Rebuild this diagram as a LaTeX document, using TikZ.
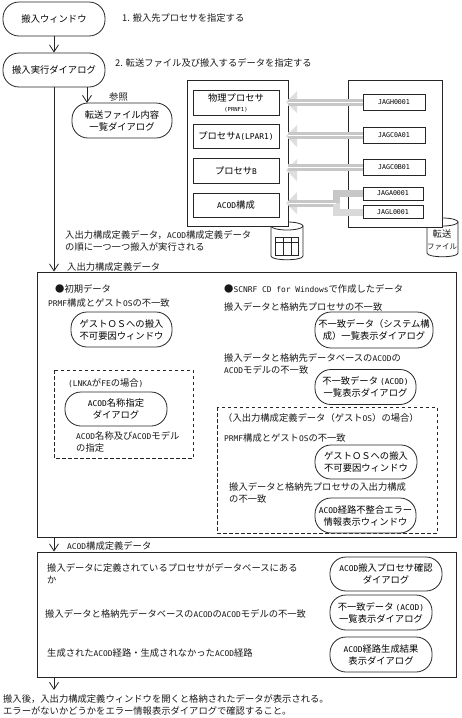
\documentclass[tikz,border=0pt]{standalone}
\usepackage{fontspec}
\setmainfont{Noto Sans CJK JP}
\newfontfamily\hwf[Scale=0.85]{DejaVu Sans Mono}
\newcommand{\hw}[1]{{\hwf #1}}
\usetikzlibrary{arrows.meta}
\tikzset{
 x=1pt,y=-1pt,
 ln/.style={draw=black!85,line width=0.8pt},
 pill/.style={ln,rounded corners=16pt,fill=white,align=center,font=\fontsize{9.3}{12}\selectfont,inner sep=0pt},
 box/.style={ln,fill=white,align=center,font=\fontsize{9.3}{10}\selectfont,inner sep=0pt},
 jag/.style={box,font=\hwf\fontsize{7.8}{10}\selectfont},
 lbl/.style={anchor=west,inner sep=0pt,align=left,font=\fontsize{9.3}{12}\selectfont,text=black!90},
 flow/.style={ln,-{Straight Barb[length=7pt,width=9pt]}},
 pnl/.style={ln,fill=white,inner sep=0pt},
 dsh/.style={draw=black!85,line width=0.8pt,dash pattern=on 3.5pt off 2.5pt},
 gshaft/.style={draw=black!22,line width=7pt},
 gline/.style={draw=white,line width=0.5pt},
 ghead/.style={fill=black!13,draw=none},
}
\newcommand{\pil}[6]{\node[pill,minimum width=#3pt,minimum height=#4pt] (#5) at (#1,#2) {#6};}
\newcommand{\gtip}[2]{\fill[ghead] (#1-3,#2) -- (#1+8,#2-11) -- (#1+8,#2+11) -- cycle;}
\begin{document}
\begin{tikzpicture}
\useasboundingbox (0,0) rectangle (462,718);
% panels
\node[pnl,minimum width=419pt,minimum height=265pt] (p1) at (246.5,404.5) {};
\node[pnl,minimum width=419pt,minimum height=125pt] (p2) at (246.5,614.5) {};
% top flow
\pil{54}{19}{102}{34}{a}{搬入ウィンドウ}
\pil{54}{70}{102}{34}{b}{搬入実行ダイアログ}
\pil{122}{120.5}{100}{35}{c}{転送ファイル内容\\一覧ダイアログ}
\coordinate (b2) at (87,87);
\coordinate (c2) at (87,103);
\draw[flow] (a) -- (b);
\draw[flow] (b) -- (p1.north -| b);
\draw[flow] (b2) -- (c2);
\draw[flow] (p1.south -| b) -- (p2.north -| b);
\coordinate (t6) at (54,690);
\draw[flow] (p2.south -| b) -- (t6);
\node[lbl] (n1) at (122,18) {1. 搬入先プロセサを指定する};
\node[lbl] (n2) at (115,63) {2. 転送ファイル及び搬入するデータを指定する};
\node[lbl] (n3) at (109,97) {参照};
% cylinders (behind the boxes)
\path[ln,fill=white] (271,226) -- (271,256) .. controls (271,261) and (303,261) .. (303,256) -- (303,226);
\draw[ln,fill=white] (287,226) ellipse [x radius=16,y radius=4];
\draw[ln] (275,237) rectangle (298,255) (275,242)--(298,242) (283,237)--(283,255) (291,237)--(291,255);
\path[ln,fill=white] (427,222) -- (427,253) .. controls (427,258) and (458,258) .. (458,253) -- (458,222);
\draw[ln,fill=white] (442.5,222) ellipse [x radius=15.5,y radius=4];
\node[lbl,anchor=center,align=center] (tf) at (442,240) {転送\\{\fontsize{7.5}{12}\selectfont ファイル}};
% left box
\node[pnl,minimum width=101pt,minimum height=146pt] (lb) at (237.5,153) {};
\node[box,minimum width=86pt,minimum height=25pt] (l1) at (236,102.5) {物理プロセサ\\{\hwf\fontsize{6.5}{9}\selectfont (PRNF1)}};
\node[box,minimum width=86pt,minimum height=24pt] (l2) at (236,136) {プロセサ\hw{A(LPAR1)}};
\node[box,minimum width=86pt,minimum height=25pt] (l3) at (236,170.5) {プロセサ\hw{B}};
\node[box,minimum width=86pt,minimum height=24pt] (l4) at (236,205) {\hw{ACOD}構成};
% right box
\node[pnl,minimum width=94pt,minimum height=147pt] (rb) at (395,153.5) {};
\node[jag,minimum width=62pt,minimum height=16pt] (r1) at (394,102) {JAGH0001};
\node[jag,minimum width=62pt,minimum height=16pt] (r2) at (394,135) {JAGC0A01};
\node[jag,minimum width=62pt,minimum height=16pt] (r3) at (394,167) {JAGC0B01};
\node[jag,minimum width=60pt,minimum height=13pt] (r4) at (393,193.5) {JAGA0001};
\node[jag,minimum width=60pt,minimum height=13pt] (r5) at (393,212) {JAGL0001};
% grey arrows
\gtip{289}{102}\gtip{289}{136}\gtip{289}{170}\gtip{289}{203}
\coordinate (g4) at (289,203);
\coordinate (g4m) at (336,203);
\draw[gshaft] (r1.west) -- (r1.west -| lb.east);
\draw[gshaft] (r2.west) -- (r2.west -| lb.east);
\draw[gshaft] (r3.west) -- (r3.west -| lb.east);
\draw[gshaft] (r4.west) -- (r4.west -| g4m) -- (g4m) -- (g4);
\draw[gshaft,draw=black!15] (r5.west) -- (r5.west -| g4m) -- (g4m);
\draw[gline] (r1.west) -- (r1.west -| lb.east);
\draw[gline] (r2.west) -- (r2.west -| lb.east);
\draw[gline] (r3.west) -- (r3.west -| lb.east);
\draw[gline] (g4m) -- (g4);
\node[lbl] (n4) at (65,240.5) {入出力構成定義データ，\hw{ACOD}構成定義データ\\の順に一つ一つ搬入が実行される};
\node[lbl] (n5) at (67,267) {入出力構成定義データ};
% panel 1 left
\node[lbl] (h1) at (55,289) {●初期データ};
\node[lbl] (h2) at (48,303) {\hw{PRMF}構成とゲスト\hw{OS}の不一致};
\pil{121.5}{329.5}{101}{35}{d}{ゲストＯＳへの搬入\\不可要因ウィンドウ}
\draw[dsh] (54,370) rectangle (193,458);
\node[lbl] (h3) at (68,383) {\hw{(LNKA}が\hw{FE}の場合\hw{)}};
\pil{116}{409}{102}{34}{e}{\hw{ACOD}名称指定\\ダイアログ}
\node[lbl] (h4) at (76,441.5) {\hw{ACOD}名称及び\hw{ACOD}モデル\\の指定};
% panel 1 right
\node[lbl] (r0) at (224,289) {●\hw{SCNRF CD for Windows}で作成したデータ};
\node[lbl] (r01) at (224,307) {搬入データと格納先プロセサの不一致};
\pil{374}{330}{118}{36}{f}{不一致データ（システム構\\成）一覧表示ダイアログ}
\node[lbl] (r02) at (224,364) {搬入データと格納先データベースの\hw{ACOD}の\\\hw{ACOD}モデルの不一致};
\pil{365.5}{387}{101}{35}{g}{不一致データ \hw{(ACOD)}\\一覧表示ダイアログ}
\draw[dsh] (217,407) rectangle (437,533);
\node[lbl] (r03) at (223,418) {（入出力構成定義データ（ゲスト\hw{OS}）の場合）};
\node[lbl] (r04) at (224,438) {\hw{PRMF}構成とゲスト\hw{OS}の不一致};
\pil{366}{462}{102}{34}{h}{ゲストＯＳへの搬入\\不可要因ウィンドウ}
\node[lbl] (r05) at (229,493) {搬入データと格納先プロセサの入出力構成\\の不一致};
\pil{365.5}{515.5}{101}{35}{i}{\hw{ACOD}経路不整合エラー\\情報表示ウィンドウ}
% panel 2
\node[lbl] (m0) at (67,546) {\hw{ACOD}構成定義データ};
\node[lbl] (m1) at (47,574) {搬入データに定義されているプロセサがデータベースにある\\か};
\pil{386}{574}{112}{34}{j}{\hw{ACOD}搬入プロセサ確認\\ダイアログ}
\node[lbl] (m2) at (45,614) {搬入データと格納先データベースの\hw{ACOD}の\hw{ACOD}モデルの不一致};
\pil{381}{612.5}{102}{35}{k}{不一致データ \hw{(ACOD)}\\一覧表示ダイアログ}
\node[lbl] (m3) at (47,653) {生成された\hw{ACOD}経路・生成されなかった\hw{ACOD}経路};
\pil{381}{654.5}{102}{35}{m}{\hw{ACOD}経路生成結果\\表示ダイアログ}
\node[lbl] (e) at (3,705) {搬入後，入出力構成定義ウィンドウを開くと格納されたデータが表示される。\\エラーがないかどうかをエラー情報表示ダイアログで確認すること。};
\end{tikzpicture}
\end{document}
